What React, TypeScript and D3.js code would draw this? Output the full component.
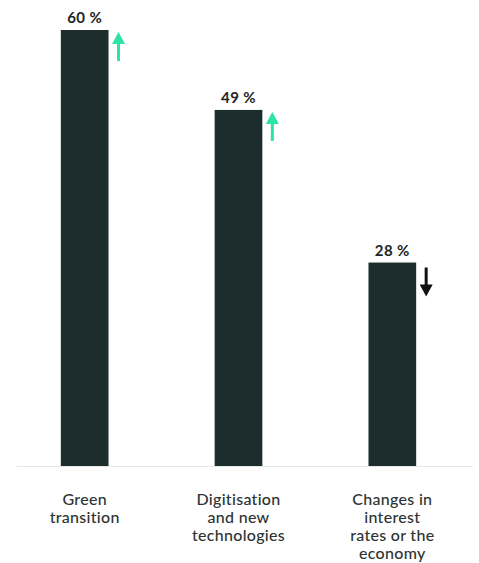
import * as d3 from "d3";
import { useEffect, useRef } from "react";

// Chart data
const categories = ["Green transition", "Digitisation and new technologies", "Changes in interest rates or the economy"];
const categoryLines = [
  ["Green", "transition"],
  ["Digitisation", "and new", "technologies"],
  ["Changes in", "interest", "rates or the", "economy"],
];
const values = [60, 49, 28];
const trends = ["up", "up", "down"];

const WIDTH = 479;
const HEIGHT = 563;

export default function App() {
  const ref = useRef<SVGSVGElement | null>(null);

  useEffect(() => {
    if (!ref.current) return;
    const svg = d3.select(ref.current);
    svg.selectAll("*").remove();

    const baseline = 466;
    const x = d3.scaleBand<string>().domain(categories).range([7, 470]).paddingInner(0.69).paddingOuter(0.35);
    const y = d3.scaleLinear().domain([0, 60]).range([baseline, 30]);

    // baseline
    svg
      .append("line")
      .attr("x1", 17)
      .attr("x2", 473)
      .attr("y1", baseline + 0.5)
      .attr("y2", baseline + 0.5)
      .attr("stroke", "#e6e8e8")
      .attr("stroke-width", 1);

    const g = svg.append("g");

    g.selectAll("rect")
      .data(values)
      .join("rect")
      .attr("x", (_, i) => x(categories[i])!)
      .attr("width", x.bandwidth())
      .attr("y", (d) => y(d))
      .attr("height", (d) => baseline - y(d))
      .attr("fill", "#1d2d2d");

    // value labels
    g.selectAll("text.val")
      .data(values)
      .join("text")
      .attr("class", "val")
      .attr("x", (_, i) => x(categories[i])! + x.bandwidth() / 2)
      .attr("y", (d) => y(d) - 7)
      .attr("text-anchor", "middle")
      .attr("font-family", "Lato, sans-serif")
      .attr("font-weight", 700)
      .attr("font-size", 15)
      .attr("letter-spacing", 0.4)
      .attr("fill", "#1d2424")
      .text((d) => `${d} %`);

    // trend arrows
    const arrow = g
      .selectAll("g.arrow")
      .data(values)
      .join("g")
      .attr("class", "arrow")
      .attr("transform", (d, i) => `translate(${x(categories[i])! + x.bandwidth() + 10},${y(d) + 2})`);

    arrow.each(function (_, i) {
      const a = d3.select(this);
      const up = trends[i] === "up";
      const color = up ? "#2de3a8" : "#111";
      const len = 29;
      const head = 12;
      if (up) {
        a.append("line").attr("x1", 0).attr("x2", 0).attr("y1", head - 1).attr("y2", len).attr("stroke", color).attr("stroke-width", 3);
        a.append("path").attr("d", `M0,0 L6.5,${head} L-6.5,${head} Z`).attr("fill", color);
      } else {
        const top = 3;
        const tip = top + len;
        a.append("line").attr("x1", 0).attr("x2", 0).attr("y1", top).attr("y2", tip - head + 1).attr("stroke", color).attr("stroke-width", 3);
        a.append("path").attr("d", `M0,${tip} L6.5,${tip - head} L-6.5,${tip - head} Z`).attr("fill", color);
      }
    });

    // category labels
    const lab = g
      .selectAll("text.cat")
      .data(categoryLines)
      .join("text")
      .attr("class", "cat")
      .attr("x", (_, i) => x(categories[i])! + x.bandwidth() / 2)
      .attr("y", 505)
      .attr("text-anchor", "middle")
      .attr("font-family", "Lato, sans-serif")
      .attr("font-weight", 500)
      .attr("font-size", 16)
      .attr("letter-spacing", 0.3)
      .attr("fill", "#2e3333");

    lab
      .selectAll("tspan")
      .data((d) => d)
      .join("tspan")
      .attr("x", function () {
        return (this.parentNode as SVGTextElement).getAttribute("x");
      })
      .attr("dy", (_, i) => (i === 0 ? 0 : 18))
      .text((d) => d);
  }, []);

  return (
    <svg
      ref={ref}
      width={WIDTH}
      height={HEIGHT}
      style={{ position: "absolute", left: 0, top: 0, background: "#fff" }}
    />
  );
}
